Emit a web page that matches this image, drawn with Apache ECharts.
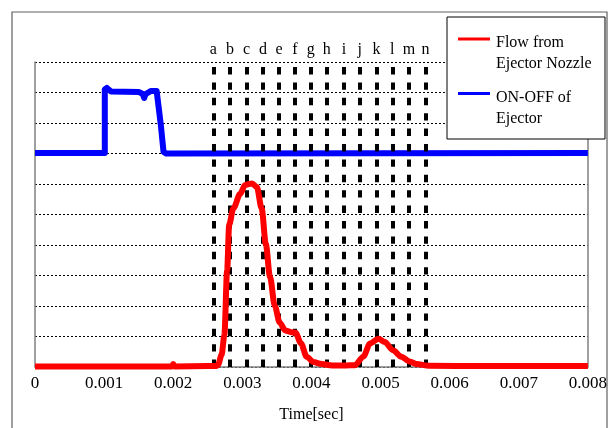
<!DOCTYPE html>
<html>
<head>
<meta charset="utf-8">
<script src="https://cdn.jsdelivr.net/npm/echarts@6/dist/echarts.min.js"></script>
<style>
  html, body { margin: 0; padding: 0; background: #fff; }
  #chart { width: 610px; height: 428px; }
</style>
</head>
<body>
<div id="chart"></div>
<script>
// x ticks (seconds)
const xTickLabels = ['0', '0.001', '0.002', '0.003', '0.004', '0.005', '0.006', '0.007', '0.008']

// flow from ejector nozzle, [time, value]
const flowPoints = [
  [0, 0.02], [0.0005, 0.02], [0.001, 0.02], [0.0015, 0.02], [0.00198, 0.02], [0.002, 0.1], [0.00202, 0.02],
  [0.0025, 0.03], [0.00262, 0.03], [0.00265, 0.08], [0.0027, 0.4], [0.00274, 1.04], [0.00278, 3.17],
  [0.00281, 4.67], [0.00287, 5.2], [0.00297, 5.68], [0.00304, 5.97], [0.00314, 6.02], [0.00321, 5.9],
  [0.00328, 5.2], [0.00334, 4.03], [0.0034, 2.96], [0.00347, 2.0], [0.00354, 1.46], [0.00362, 1.2],
  [0.00371, 1.14], [0.00377, 1.12], [0.00385, 0.77], [0.00393, 0.34], [0.00403, 0.16], [0.00415, 0.1],
  [0.0043, 0.05], [0.0045, 0.05], [0.00463, 0.06], [0.00475, 0.34], [0.00485, 0.77], [0.00497, 0.93],
  [0.00506, 0.82], [0.00518, 0.55], [0.0053, 0.34], [0.00542, 0.18], [0.00552, 0.1], [0.0057, 0.04],
  [0.0065, 0.03], [0.0072, 0.03], [0.008, 0.03]
]

// ON-OFF signal of ejector, [time, value]
const ejectorPoints = [
  [0, 7.02], [0.00101, 7.02], [0.00101, 9.1], [0.00104, 9.15], [0.0011, 9.03], [0.0015, 9.02],
  [0.00156, 8.95], [0.00158, 8.82], [0.0016, 8.95], [0.00168, 9.05], [0.00176, 9.05], [0.00178, 9.0],
  [0.00182, 7.95], [0.00186, 7.05], [0.0019, 7.0], [0.008, 7.02]
]

// marked instants a..n
const markLetters = ['a', 'b', 'c', 'd', 'e', 'f', 'g', 'h', 'i', 'j', 'k', 'l', 'm', 'n']
const markTimes = [0.00258, 0.00282, 0.00306, 0.00330, 0.00353, 0.00376, 0.00399,
  0.00422, 0.00447, 0.00470, 0.00494, 0.00517, 0.00541, 0.00565]

const seriesNames = ['Flow from\nEjector Nozzle', 'ON-OFF of\nEjector']

const serif = '"Liberation Serif", "Times New Roman", serif'
const chart = echarts.init(document.getElementById('chart'))

chart.setOption({
  animation: false,
  backgroundColor: '#fff',
  grid: { left: 35, right: 22, top: 62, bottom: 54 },
  xAxis: {
    type: 'value',
    min: 0,
    max: 0.008,
    interval: 0.001,
    name: 'Time[sec]',
    nameLocation: 'middle',
    nameGap: 40,
    nameTextStyle: { fontFamily: serif, fontSize: 16, color: '#000' },
    axisLine: { lineStyle: { color: '#808080', width: 1.5 } },
    axisTick: { show: false },
    splitLine: { show: false },
    axisLabel: {
      margin: 8,
      fontFamily: serif,
      fontSize: 17,
      color: '#000',
      formatter: v => xTickLabels[Math.round(v / 0.001)]
    }
  },
  yAxis: [
    {
      type: 'value',
      min: 0,
      max: 10,
      interval: 1,
      axisLabel: { show: false },
      axisTick: { show: false },
      axisLine: { show: true, lineStyle: { color: '#808080', width: 1.5 } },
      splitLine: { lineStyle: { color: '#000', type: [2, 2], width: 1 } }
    },
    {
      type: 'value',
      position: 'right',
      min: 0,
      max: 10,
      interval: 1,
      axisLabel: { show: false },
      axisTick: { show: false },
      axisLine: { show: true, lineStyle: { color: '#808080', width: 1.5 } },
      splitLine: { show: false }
    }
  ],
  series: [
    {
      name: seriesNames[1],
      type: 'line',
      z: 2,
      data: ejectorPoints,
      showSymbol: false,
      lineStyle: { color: '#0000ff', width: 6, join: 'round' },
      markLine: {
        z: 3,
        silent: true,
        precision: 6,
        symbol: ['none', 'none'],
        lineStyle: { color: '#000', width: 4, type: [7.4, 8] },
        label: {
          show: true,
          position: 'end',
          distance: 4,
          formatter: '{b}',
          color: '#000',
          fontFamily: serif,
          fontSize: 16
        },
        data: markTimes.map((t, i) => ({ xAxis: t, name: markLetters[i] }))
      }
    },
    {
      name: seriesNames[0],
      type: 'line',
      z: 4,
      data: flowPoints,
      showSymbol: false,
      smooth: 0.3,
      smoothMonotone: 'x',
      lineStyle: { color: '#ff0000', width: 6, join: 'round' }
    }
  ],
  graphic: [
    // outer frame
    {
      type: 'rect',
      z: 0,
      silent: true,
      shape: { x: 12, y: 12, width: 595, height: 440 },
      style: { fill: 'none', stroke: '#606060', lineWidth: 1.2 }
    },
    // legend box
    {
      type: 'rect',
      z: 100,
      silent: true,
      shape: { x: 447, y: 17, width: 158, height: 122 },
      style: { fill: '#fff', stroke: '#000', lineWidth: 1 }
    },
    {
      type: 'line',
      z: 101,
      silent: true,
      shape: { x1: 458, y1: 39, x2: 490, y2: 39 },
      style: { stroke: '#ff0000', lineWidth: 3 }
    },
    {
      type: 'line',
      z: 101,
      silent: true,
      shape: { x1: 458, y1: 93.5, x2: 490, y2: 93.5 },
      style: { stroke: '#0000ff', lineWidth: 3 }
    },
    {
      type: 'text',
      z: 101,
      silent: true,
      x: 496, y: 32,
      style: { text: seriesNames[0], fontFamily: serif, fontSize: 16, lineHeight: 21, fill: '#000' }
    },
    {
      type: 'text',
      z: 101,
      silent: true,
      x: 496, y: 87,
      style: { text: seriesNames[1], fontFamily: serif, fontSize: 16, lineHeight: 21, fill: '#000' }
    }
  ]
})
</script>
</body>
</html>
